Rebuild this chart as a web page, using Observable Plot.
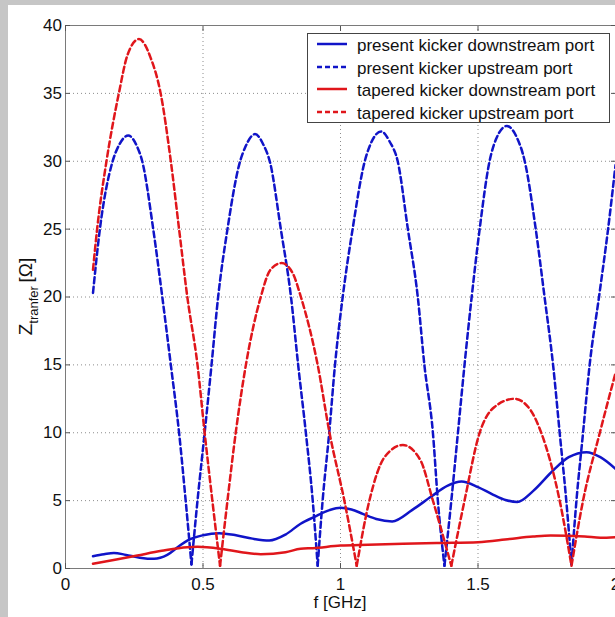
<!DOCTYPE html>
<html><head><meta charset="utf-8">
<script src="https://cdn.jsdelivr.net/npm/d3@7"></script>
<script src="https://cdn.jsdelivr.net/npm/@observablehq/plot@0.6"></script>
<style>
html,body{margin:0;padding:0;background:#c6c6c6;overflow:hidden;width:615px;height:617px}
#fig{position:absolute;left:8px;top:5px;width:607px;height:612px;background:#fff;overflow:hidden}
#chart{position:absolute;left:0;top:0}
#legend{position:absolute;left:299px;top:28px;width:301px;height:88px;border:1px solid #444;background:#fff}
</style></head><body>
<div id="fig"><div id="chart"></div><div id="legend"></div></div>
<script>
// ---- axis ticks ----
const xTicks = [0, 0.5, 1, 1.5, 2];
const xTickLabels = ["0", "0.5", "1", "1.5", "2"];
const yTicks = [0, 5, 10, 15, 20, 25, 30, 35, 40];
const yTickLabels = ["0", "5", "10", "15", "20", "25", "30", "35", "40"];
const xLabel = "f [GHz]";
const yLabelMain = "Z", yLabelSub = "tranfer", yLabelUnit = "[Ω]";

// ---- series names ----
const seriesNames = [
  "present kicker downstream port",
  "present kicker upstream port",
  "tapered kicker downstream port",
  "tapered kicker upstream port"
];

// ---- present kicker downstream port (blue, solid) ----
const presentDownF = [0.10,0.14,0.176,0.22,0.27,0.322,0.37,0.41,0.443,0.50,0.559,0.62,0.68,0.741,0.80,0.855,0.905,0.96,1.0,1.04,1.081,1.13,1.188,1.26,1.33,1.39,1.44,1.50,1.554,1.60,1.643,1.70,1.773,1.83,1.895,1.945,2.0];
const presentDownZ = [0.9,1.05,1.15,1.0,0.8,0.71,1.0,1.6,2.06,2.45,2.6,2.45,2.2,2.06,2.5,3.3,3.8,4.3,4.47,4.35,4.03,3.65,3.47,4.3,5.3,6.1,6.4,6.0,5.45,5.05,4.9,5.7,7.22,8.2,8.57,8.2,7.34];

// ---- present kicker upstream port (blue, dashed) ----
const presentUpF = [0.10,0.125,0.170,0.195,0.228,0.26,0.279,0.319,0.352,0.383,0.413,0.437,0.458,0.48,0.506,0.531,0.555,0.589,0.631,0.655,0.689,0.72,0.744,0.783,0.820,0.846,0.874,0.899,0.917,0.935,0.959,0.98,1.008,1.044,1.087,1.11,1.148,1.18,1.208,1.245,1.281,1.305,1.336,1.354,1.378,1.403,1.427,1.451,1.477,1.506,1.542,1.565,1.605,1.64,1.670,1.710,1.742,1.773,1.797,1.821,1.840,1.858,1.882,1.906,1.94,1.973,2.0];
const presentUpZ = [20.3,25,29.9,31.2,31.9,31.1,30,25,20,15,10,5,0.3,5,10,15,20,25,29.7,31.1,32.0,31.2,29.9,25,20,15,10,5,0.2,5,10,15,20,25,29.9,31.3,32.2,31.4,30,25,20,15,10,5,0.2,5,10,15,20,25,30,31.6,32.6,31.8,30,25,20,15,10,5,0.3,5,10,15,20,25,29.7];

// ---- tapered kicker downstream port (red, solid) ----
const taperedDownF = [0.10,0.18,0.261,0.35,0.443,0.48,0.565,0.64,0.71,0.80,0.855,0.90,1.0,1.1,1.227,1.35,1.50,1.615,1.70,1.764,1.888,1.945,2.0];
const taperedDownZ = [0.35,0.65,0.96,1.3,1.57,1.6,1.45,1.2,1.05,1.2,1.45,1.5,1.69,1.75,1.82,1.88,1.94,2.18,2.35,2.43,2.36,2.26,2.3];

// ---- tapered kicker upstream port (red, dashed) ----
const taperedUpF = [0.10,0.115,0.149,0.194,0.225,0.267,0.31,0.346,0.383,0.413,0.443,0.48,0.506,0.534,0.562,0.589,0.619,0.656,0.71,0.745,0.786,0.825,0.856,0.917,0.96,1.014,1.059,1.105,1.16,1.227,1.29,1.336,1.403,1.451,1.506,1.56,1.633,1.69,1.730,1.797,1.840,1.882,1.943,2.0];
const taperedUpZ = [22,25,30,35,37.8,39.0,37.6,35,30,25,20,15,10,5,0.2,5,10,15,20,22.0,22.5,21.8,20,15,10,5,0.2,5,8.2,9.1,8.0,5,0.2,5,10,11.9,12.5,11.7,10,5,0.2,5,10,14.4];

const blue = "#1014c8", red = "#e0161b";
const seriesColors = [blue, blue, red, red];
const seriesDash = [null, "6,3.5", null, "6,3.5"];

// build tables (dashed curves split into arches at their zeros)
function table(F, Z) { return F.map((f, i) => ({f, val: Z[i], arch: 0})); }
function arches(F, Z) {
  const out = []; let a = 0;
  for (let i = 0; i < F.length; i++) {
    out.push({f: F[i], val: Z[i], arch: a});
    if (i > 0 && i < F.length - 1 && Z[i] < Z[i - 1] && Z[i] < Z[i + 1] && Z[i] < 1) {
      a++; out.push({f: F[i], val: Z[i], arch: a});
    }
  }
  return out;
}
const data = [
  table(presentDownF, presentDownZ),
  arches(presentUpF, presentUpZ),
  table(taperedDownF, taperedDownZ),
  arches(taperedUpF, taperedUpZ)
];

const font = '"Liberation Sans", Arial, sans-serif';
const lineMarks = data.map((d, i) => Plot.line(d, {
  x: "f", y: "val", z: "arch", curve: "monotone-x",
  stroke: seriesColors[i], strokeWidth: 2.5,
  strokeDasharray: seriesDash[i] || undefined
}));

const plot = Plot.plot({
  width: 607, height: 612,
  marginLeft: 57, marginRight: 0, marginTop: 20, marginBottom: 49,
  style: {fontFamily: font, fontSize: "17px", color: "#111", background: "transparent", overflow: "visible"},
  x: {domain: [0, 2]},
  y: {domain: [0, 40]},
  marks: [
    Plot.gridY(yTicks.slice(1, -1), {stroke: "#8c8c8c", strokeOpacity: 1, strokeDasharray: "1,3"}),
    Plot.gridX(xTicks.slice(1, -1), {stroke: "#8c8c8c", strokeOpacity: 1, strokeDasharray: "1,3"}),
    ...lineMarks,
    Plot.ruleY([0, 40], {stroke: "#7a7a7a"}),
    Plot.ruleX([0], {stroke: "#7a7a7a"}),
    Plot.axisX({ticks: xTicks, tickFormat: d => xTickLabels[xTicks.indexOf(d)], tickSize: -5, tickPadding: 14, label: null, stroke: "#555", fill: "#111"}),
    Plot.axisY({ticks: yTicks, tickFormat: d => yTickLabels[yTicks.indexOf(d)], tickSize: -5, tickPadding: 8.5, label: null, stroke: "#555", fill: "#111"}),
    Plot.axisX({anchor: "top", ticks: xTicks, tickFormat: () => "", tickSize: -5, label: null, stroke: "#555"}),
    Plot.axisY({anchor: "right", ticks: yTicks, tickFormat: () => "", tickSize: -5, label: null, stroke: "#555"})
  ]
});
document.getElementById("chart").appendChild(plot);

// axis titles
const svg = d3.select(plot);
const xs = plot.scale("x"), ys = plot.scale("y");
svg.append("text")
  .attr("x", xs.apply(1)).attr("y", 603)
  .attr("text-anchor", "middle").attr("fill", "#111")
  .style("font-family", font).style("font-size", "17px")
  .text(xLabel);
const yl = svg.append("text")
  .attr("transform", `translate(24,${ys.apply(20)}) rotate(-90)`)
  .attr("text-anchor", "middle").attr("fill", "#111")
  .style("font-family", font).style("font-size", "19px");
yl.append("tspan").text(yLabelMain);
yl.append("tspan").attr("dy", 6).style("font-size", "13px").text(yLabelSub + " ");
yl.append("tspan").attr("dy", -6).text(yLabelUnit);

// legend
const lg = d3.select("#legend").append("svg").attr("width", 301).attr("height", 88);
const rowY = [10, 33, 55, 78];
seriesNames.forEach((name, i) => {
  lg.append("line").attr("x1", 9).attr("x2", 39).attr("y1", rowY[i]).attr("y2", rowY[i])
    .attr("stroke", seriesColors[i]).attr("stroke-width", 2.5)
    .attr("stroke-dasharray", seriesDash[i] ? "5,3" : null);
  lg.append("text").attr("x", 49).attr("y", rowY[i] + 6.5).attr("fill", "#111")
    .style("font-family", font).style("font-size", "17px").text(name);
});
</script></body></html>
